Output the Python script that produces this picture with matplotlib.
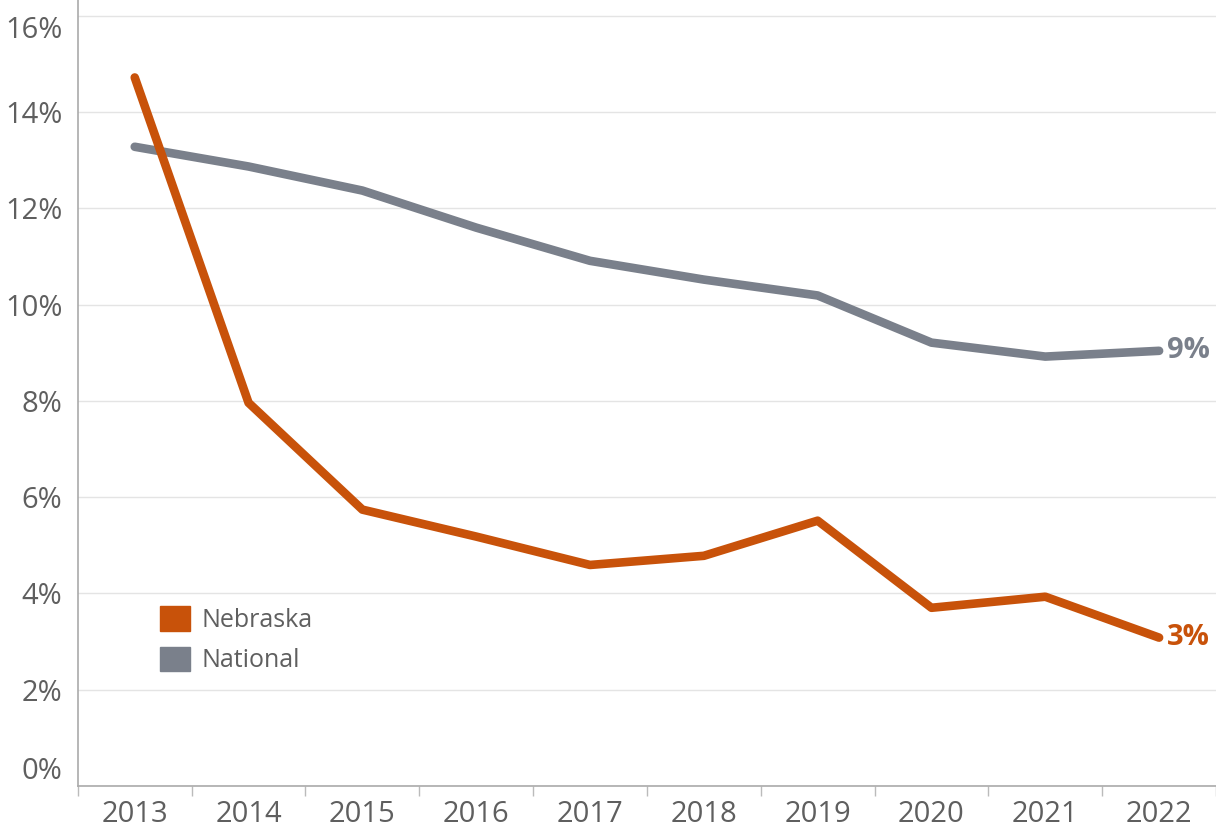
import matplotlib.pyplot as plt
from matplotlib.patches import Patch

years = ['2013', '2014', '2015', '2016', '2017', '2018', '2019', '2020', '2021', '2022']
nebraska = [14.72, 7.96, 5.74, 5.18, 4.59, 4.78, 5.51, 3.70, 3.93, 3.08]
national = [13.28, 12.87, 12.37, 11.60, 10.91, 10.52, 10.19, 9.21, 8.92, 9.04]
yticks = [0, 2, 4, 6, 8, 10, 12, 14, 16]

orange = '#c8520a'
grey = '#7a808b'
textc = '#5f5f5f'

plt.rcParams['font.family'] = ['Open Sans', 'DejaVu Sans']

fig = plt.figure(figsize=(12.16, 8.36), dpi=100)
ax = fig.add_axes([0.064, 0.06, 0.936, 0.94])

x = list(range(len(years)))
ax.plot(x, national, color=grey, lw=6.2, solid_capstyle='round', solid_joinstyle='round', zorder=3)
ax.plot(x, nebraska, color=orange, lw=6.2, solid_capstyle='round', solid_joinstyle='round', zorder=4)

ax.annotate('%d%%' % round(national[-1]), (x[-1], national[-1]), xytext=(6, 0),
            textcoords='offset points', va='center', ha='left', color=grey,
            fontsize=21, fontweight='bold')
ax.annotate('%d%%' % int(nebraska[-1]), (x[-1], nebraska[-1]), xytext=(6, 0),
            textcoords='offset points', va='center', ha='left', color=orange,
            fontsize=21, fontweight='bold')

ax.set_xlim(-0.5, 9.5)
ax.set_ylim(0, 16.33)
ax.set_yticks(yticks)
ax.set_yticklabels(['%d%%' % v for v in yticks])
labels = ax.get_yticklabels()
labels[0].set_va('bottom')
labels[-1].set_va('top')
ax.tick_params(axis='y', length=0, pad=11, labelsize=21, labelcolor=textc)

ax.set_xticks(x)
ax.set_xticklabels(years)
ax.set_xticks([i + 0.5 for i in range(-1, len(years))], minor=True)
ax.tick_params(axis='x', which='major', length=0, pad=10, labelsize=21, labelcolor=textc)
ax.tick_params(axis='x', which='minor', length=7, color='#bbbbbb', width=1)

ax.grid(axis='y', color='#e4e4e4', lw=1)
ax.set_axisbelow(True)
for s in ['top', 'right']:
    ax.spines[s].set_visible(False)
for s in ['left', 'bottom']:
    ax.spines[s].set_color('#aaaaaa')
    ax.spines[s].set_linewidth(1.2)

handles = [Patch(color=orange, label='Nebraska'), Patch(color=grey, label='National')]
leg = ax.legend(handles=handles, loc='upper left', bbox_to_anchor=(0.072, 0.229),
                frameon=False, fontsize=18, handlelength=1.2, handleheight=1.15,
                handletextpad=0.45, labelspacing=0.55, borderpad=0, borderaxespad=0)
for t in leg.get_texts():
    t.set_color(textc)

fig.savefig('out.png', dpi=100, facecolor='white')
